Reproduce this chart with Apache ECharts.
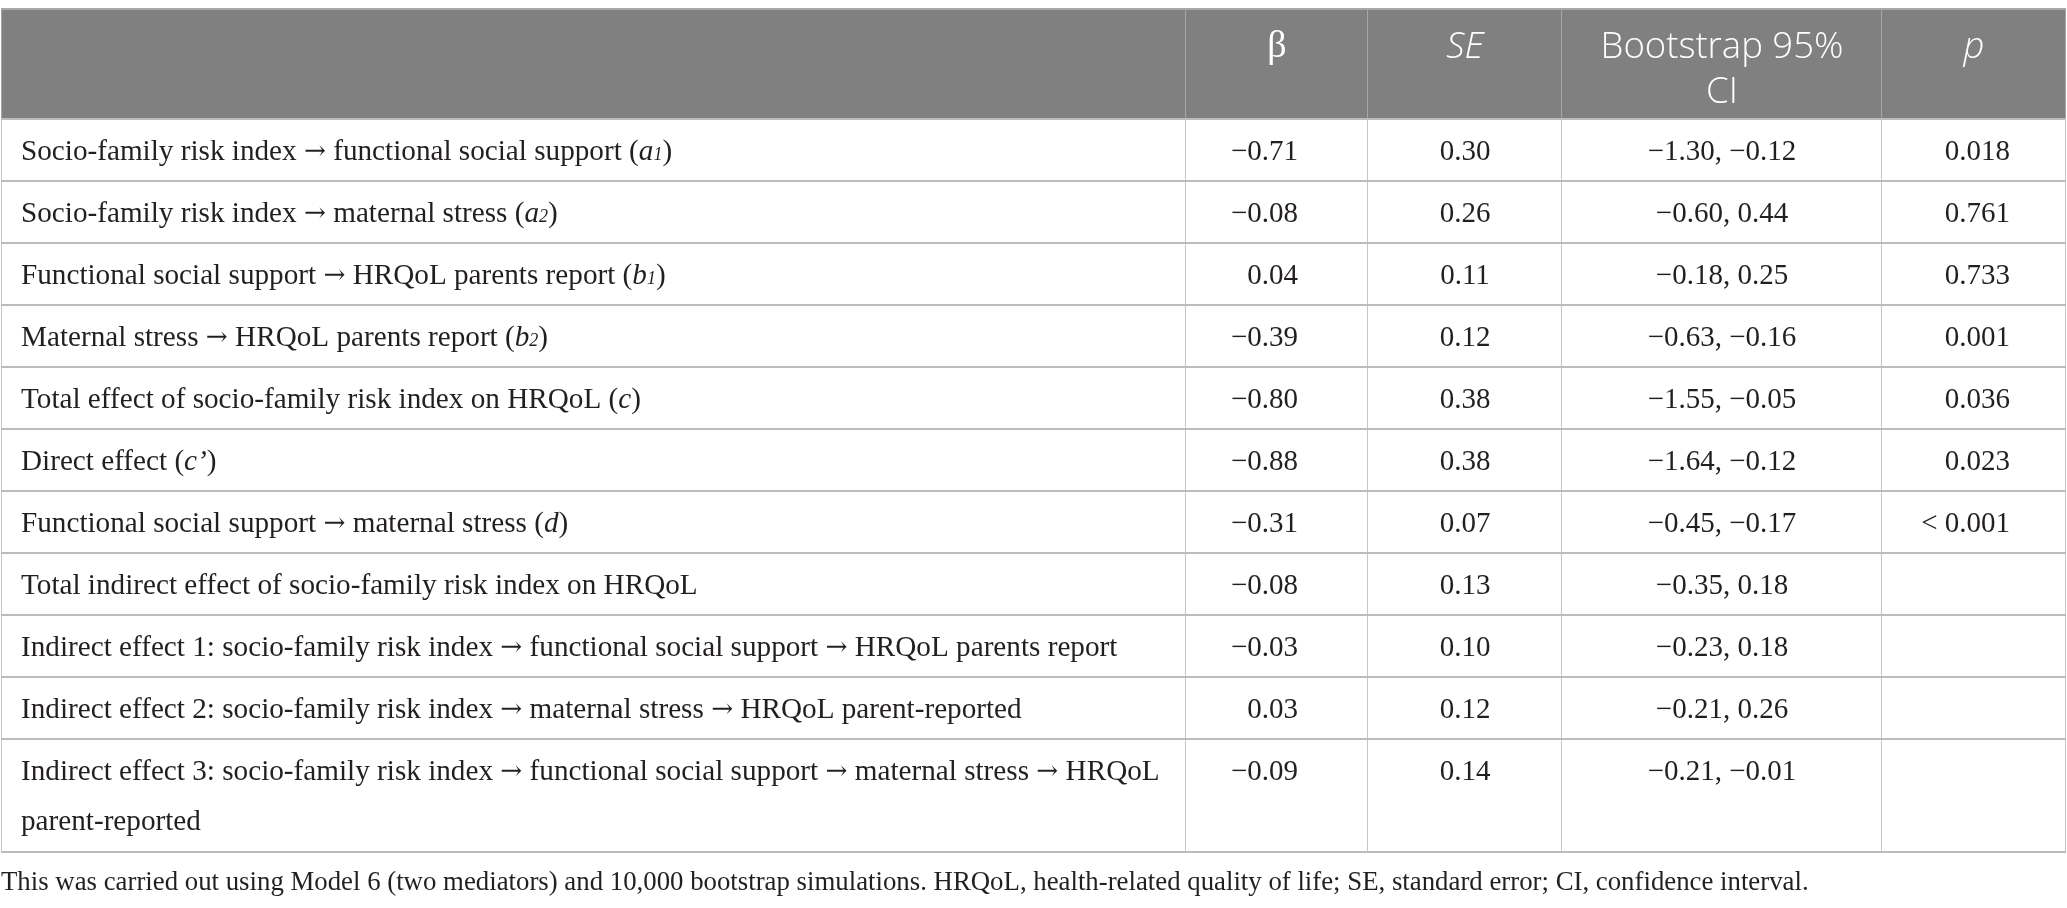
<!DOCTYPE html>
<html><head><meta charset="utf-8">
<script src="https://cdn.jsdelivr.net/npm/echarts@6/dist/echarts.min.js"></script>
<style>html,body{margin:0;padding:0;background:#fff}#c{width:2067px;height:908px}</style>
</head><body><div id="c"></div>
<script>
// ---------- data ----------
const headerLabels = ["", "β", "SE", "Bootstrap 95%\nCI", "p"];
const headerItalic = [false, false, true, false, true];
const rowLabels = [
  "Socio-family risk index → functional social support",
  "Socio-family risk index → maternal stress",
  "Functional social support → HRQoL parents report",
  "Maternal stress → HRQoL parents report",
  "Total effect of socio-family risk index on HRQoL",
  "Direct effect",
  "Functional social support → maternal stress",
  "Total indirect effect of socio-family risk index on HRQoL",
  "Indirect effect 1: socio-family risk index → functional social support → HRQoL parents report",
  "Indirect effect 2: socio-family risk index → maternal stress → HRQoL parent-reported",
  "Indirect effect 3: socio-family risk index → functional social support → maternal stress → HRQoL\nparent-reported"
];
const pathSymbols    = ["a", "a", "b", "b", "c", "c’", "d", "", "", "", ""];
const pathSubscripts = ["1", "2", "1", "2", "",  "",   "",  "", "", "", ""];
const beta   = [-0.71, -0.08, 0.04, -0.39, -0.80, -0.88, -0.31, -0.08, -0.03, 0.03, -0.09];
const se     = [0.30, 0.26, 0.11, 0.12, 0.38, 0.38, 0.07, 0.13, 0.10, 0.12, 0.14];
const ciLow  = [-1.30, -0.60, -0.18, -0.63, -1.55, -1.64, -0.45, -0.35, -0.23, -0.21, -0.21];
const ciHigh = [-0.12, 0.44, 0.25, -0.16, -0.05, -0.12, -0.17, 0.18, 0.18, 0.26, -0.01];
const pValues = ["0.018", "0.761", "0.733", "0.001", "0.036", "0.023", "< 0.001", "", "", "", ""];
const footnote = "This was carried out using Model 6 (two mediators) and 10,000 bootstrap simulations. HRQoL, health-related quality of life; SE, standard error; CI, confidence interval.";

// ---------- layout ----------
const colWidths = [1185, 182, 194, 320, 184];
const rowHeights = [110, 62, 62, 62, 62, 62, 62, 62, 62, 62, 62, 113];
const colEdges = [0]; colWidths.forEach(w => colEdges.push(colEdges[colEdges.length - 1] + w));
const rowEdges = [0]; rowHeights.forEach(h => rowEdges.push(rowEdges[rowEdges.length - 1] + h));
const TOTAL_W = colEdges[colEdges.length - 1], TOTAL_H = rowEdges[rowEdges.length - 1];

const HEADER_BG = '#7f807f';
const SERIF = '"Liberation Serif", "Times New Roman", serif';
const ARROW_FONT = '"DejaVu Serif", serif';
const HEAD_FONT = '"Open Sans", "Noto Sans", sans-serif';
const TEXT_COLOR = '#231f20';

// calibrate serif sizes to the text extents measured on the reference
const mctx = document.createElement('canvas').getContext('2d');
function mw(text, font) { mctx.font = font; return mctx.measureText(text).width; }
const FOOT_SIZE = Math.round(100 * 1805 / mw(footnote, '100px ' + SERIF) * 10) / 10;
const ARROW_RATIO = 0.9;
const longLabel = rowLabels[8];
const longParts = longLabel.split('→');
const longW100 = mw(longParts.join(''), '100px ' + SERIF) + (longParts.length - 1) * mw('→', (100 * ARROW_RATIO) + 'px ' + ARROW_FONT);
const LABEL_SIZE = Math.round(100 * 1098 / longW100 * 10) / 10;
const NUM_SIZE = 29, HEAD_SIZE = 36.5;

const fmt = v => (v < 0 ? '\u2212' : '') + Math.abs(v).toFixed(2);

function cellText(r, c) {
  if (r === 0) {
    const t = headerLabels[c];
    if (!t) return '';
    const key = c === 1 ? 'hb' : (headerItalic[c] ? 'hi' : 'h');
    return t.split('\n').map(l => '{' + key + '|' + l + '}').join('\n');
  }
  const i = r - 1;
  if (c === 0) {
    const lines = rowLabels[i].split('\n');
    return lines.map((l, k) => {
      let s = '{t|' + l.split('→').join('}{ar|→}{t|');
      if (k === 0 && pathSymbols[i]) {
        s += ' (}{i|' + pathSymbols[i] + '}';
        if (pathSubscripts[i]) s += '{s|' + pathSubscripts[i] + '}';
        s += '{t|)}';
      } else s += '}';
      return s;
    }).join('\n');
  }
  if (c === 1) return '{n|' + fmt(beta[i]) + '}';
  if (c === 2) return '{n|' + se[i].toFixed(2) + '}';
  if (c === 3) return '{n|' + fmt(ciLow[i]) + ', ' + fmt(ciHigh[i]) + '}';
  if (c === 4) return pValues[i] ? '{n|' + pValues[i] + '}' : '';
  return '';
}

const rich = {
  t:  { fontFamily: SERIF, fontSize: LABEL_SIZE, fill: TEXT_COLOR, color: TEXT_COLOR, lineHeight: 50 },
  ar: { fontFamily: ARROW_FONT, fontSize: LABEL_SIZE * ARROW_RATIO, fill: TEXT_COLOR, color: TEXT_COLOR, lineHeight: 50 },
  n:  { fontFamily: SERIF, fontSize: NUM_SIZE, fill: TEXT_COLOR, color: TEXT_COLOR, lineHeight: 50 },
  i:  { fontFamily: SERIF, fontSize: LABEL_SIZE, fontStyle: 'italic', fill: TEXT_COLOR, color: TEXT_COLOR, lineHeight: 50 },
  s:  { fontFamily: SERIF, fontSize: 18, fontStyle: 'italic', fill: TEXT_COLOR, color: TEXT_COLOR, lineHeight: 50, padding: [7, 0, 0, 0] },
  h:  { fontFamily: HEAD_FONT, fontSize: HEAD_SIZE, fontWeight: 300, fill: '#fff', color: '#fff', lineHeight: 45 },
  hb: { fontFamily: SERIF, fontSize: 38, fill: '#fff', color: '#fff', lineHeight: 45 },
  hi: { fontFamily: HEAD_FONT, fontSize: HEAD_SIZE, fontWeight: 300, fontStyle: 'italic', fill: '#fff', color: '#fff', lineHeight: 45 }
};

const cells = [];
for (let r = 0; r < rowHeights.length; r++) for (let c = 0; c < colWidths.length; c++) cells.push([c, r]);

function renderItem(params, api) {
  const c = api.value(0), r = api.value(1);
  const p0 = api.coord([colEdges[c], rowEdges[r]]);
  const p1 = api.coord([colEdges[c + 1], rowEdges[r + 1]]);
  const x0 = p0[0], y0 = p0[1], x1 = p1[0], y1 = p1[1];
  const ch = [];
  ch.push({ type: 'rect', z2: 0, shape: { x: x0, y: y0, width: x1 - x0, height: y1 - y0 },
            style: { fill: r === 0 ? HEADER_BG : '#ffffff' } });
  const txt = cellText(r, c);
  if (txt) {
    let x, align;
    if (r === 0 || c === 2 || c === 3) { x = (x0 + x1) / 2; align = 'center'; }
    else if (c === 0) { x = x0 + 20; align = 'left'; }
    else if (c === 1) { x = x1 - 70; align = 'right'; }
    else { x = x1 - 56; align = 'right'; }
    const y = r === 0 ? y0 + 16 : y0 + 8;
    ch.push({ type: 'text', z2: 20, x: x, y: y,
              style: { text: txt, rich: rich, align: align, verticalAlign: 'top',
                       fontFamily: SERIF, fontSize: LABEL_SIZE, fill: TEXT_COLOR } });
  }
  // bottom border
  ch.push({ type: 'line', z2: 10, shape: { x1: x0, y1: y1, x2: x1, y2: y1 },
            style: { stroke: '#bcbcbc', lineWidth: 2 } });
  // right border
  ch.push({ type: 'line', z2: 9, shape: { x1: Math.round(x1) - 0.5, y1: y0, x2: Math.round(x1) - 0.5, y2: y1 },
            style: { stroke: r === 0 ? '#a5a6a5' : '#c6c6c6', lineWidth: 1 } });
  if (c === 0) ch.push({ type: 'line', z2: 9, shape: { x1: x0 + 0.5, y1: y0, x2: x0 + 0.5, y2: y1 },
            style: { stroke: r === 0 ? '#a5a6a5' : '#c6c6c6', lineWidth: 1 } });
  if (r === 0) ch.push({ type: 'line', z2: 10, shape: { x1: x0, y1: y0, x2: x1, y2: y0 },
            style: { stroke: '#a8a8a8', lineWidth: 2 } });
  return { type: 'group', children: ch };
}

const chart = echarts.init(document.getElementById('c'), null, { renderer: 'canvas' });
chart.setOption({
  animation: false,
  backgroundColor: '#ffffff',
  title: { text: footnote, left: 1, top: 869, padding: 0,
           textStyle: { fontFamily: SERIF, fontSize: FOOT_SIZE, fontWeight: 'normal', color: TEXT_COLOR } },
  grid: { left: 1, top: 9, width: TOTAL_W, height: TOTAL_H },
  xAxis: { type: 'value', min: 0, max: TOTAL_W, show: false },
  yAxis: { type: 'value', min: 0, max: TOTAL_H, inverse: true, show: false },
  series: [{ type: 'custom', data: cells, renderItem: renderItem, silent: true, clip: false }]
});
</script></body></html>
